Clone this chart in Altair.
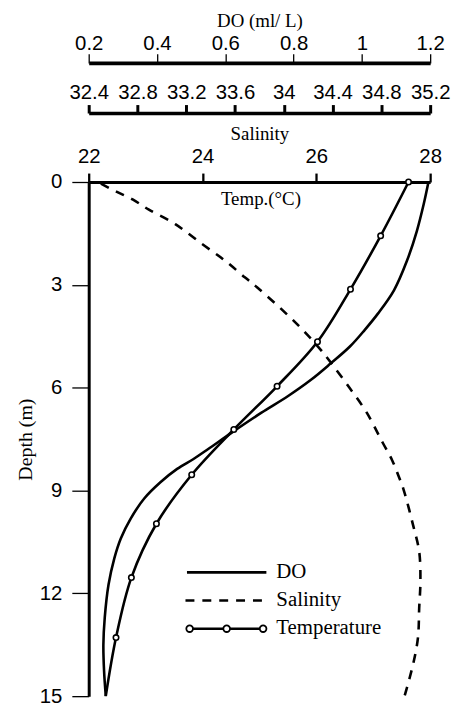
import altair as alt
import pandas as pd

# ---- data ----
do_depth = [0.0, 0.65, 1.43, 2.30, 3.16, 3.84, 4.32, 4.80, 5.29, 5.77, 6.25, 6.73,
            7.31, 7.79, 8.08, 8.37, 8.76, 9.24, 9.82, 10.40, 10.98, 11.75, 12.71, 13.49, 14.26, 15.0]
do_vals = [1.195, 1.181, 1.161, 1.132, 1.094, 1.047, 1.008, 0.965, 0.909, 0.851, 0.783, 0.706,
           0.619, 0.550, 0.507, 0.459, 0.410, 0.362, 0.323, 0.294, 0.275, 0.258, 0.247, 0.243, 0.245, 0.250]

sal_depth = [0.05, 0.27, 0.51, 0.80, 1.23, 1.81, 2.30, 2.78, 3.07, 4.08, 4.80, 5.29, 6.01,
             6.73, 7.60, 8.13, 8.57, 8.95, 10.01, 10.78, 11.65, 12.43, 13.29, 14.07, 15.0]
sal_vals = [32.50, 32.62, 32.76, 32.89, 33.11, 33.33, 33.52, 33.68, 33.78, 34.09, 34.28, 34.39, 34.54,
            34.68, 34.81, 34.89, 34.94, 34.98, 35.06, 35.11, 35.12, 35.11, 35.10, 35.06, 34.99]

temp_depth = [0.0, 1.57, 3.13, 4.66, 5.96, 7.22, 8.54, 9.97, 11.54, 13.29, 15.0]
temp_vals = [27.62, 27.13, 26.60, 26.02, 25.31, 24.55, 23.81, 23.19, 22.75, 22.48, 22.30]

do_ticks = [0.2, 0.4, 0.6, 0.8, 1.0, 1.2]
sal_ticks = [32.4, 32.8, 33.2, 33.6, 34.0, 34.4, 34.8, 35.2]
temp_ticks = [22, 24, 26, 28]
depth_ticks = [0, 3, 6, 9, 12, 15]
series_names = ["DO", "Salinity", "Temperature"]

do_df = pd.DataFrame({"depth": do_depth, "do": do_vals})
sal_df = pd.DataFrame({"depth": sal_depth, "sal": sal_vals})
temp_df = pd.DataFrame({"depth": temp_depth, "temp": temp_vals})
legend_df = pd.DataFrame({"label": series_names})

W, H = 344, 518
LW = 2.6
SERIF = "Liberation Serif"
LBL = 20.5

y_enc = alt.Y(
    "depth:Q",
    scale=alt.Scale(domain=[0, 15], reverse=True, nice=False, zero=False),
    axis=alt.Axis(
        orient="left", values=depth_ticks, tickSize=17, tickWidth=1.3, domainWidth=3,
        labelFontSize=LBL, labelPadding=10, labelFlush=False,
        title="Depth (m)", titleFont=SERIF, titleFontSize=20,
        titleX=-64, titleY=259, titleAngle=270, titleAlign="center", titleBaseline="middle",
    ),
)

temp_x = alt.X(
    "temp:Q",
    scale=alt.Scale(domain=[22, 28], nice=False, zero=False),
    axis=alt.Axis(
        orient="top", values=temp_ticks, format="~g", tickSize=9, tickWidth=2.3, domainWidth=3,
        labelFontSize=LBL, labelPadding=6.5, labelFlush=False,
        title="Temp.(°C)", titleFont=SERIF, titleFontSize=19,
        titleX=173, titleY=16.5, titleAlign="center", titleBaseline="middle",
    ),
)

sal_x = alt.X(
    "sal:Q",
    scale=alt.Scale(domain=[32.4, 35.2], nice=False, zero=False),
    axis=alt.Axis(
        orient="top", offset=69.5, values=sal_ticks, format="~g", tickSize=8.5, tickWidth=3,
        domainWidth=3.6, labelFontSize=LBL, labelPadding=2, labelFlush=False,
        title="Salinity", titleFont=SERIF, titleFontSize=19,
        titleX=172, titleY=21, titleAlign="center", titleBaseline="middle",
    ),
)

do_x = alt.X(
    "do:Q",
    scale=alt.Scale(domain=[0.2, 1.2], nice=False, zero=False),
    axis=alt.Axis(
        orient="top", offset=120, values=do_ticks, format="~g", tickSize=9.3, tickWidth=1.3,
        domainWidth=3.8, labelFontSize=LBL, labelPadding=0, labelFlush=False,
        title="DO (ml/ L)", titleFont=SERIF, titleFontSize=19,
        titleX=172, titleY=-43, titleAlign="center", titleBaseline="middle",
    ),
)

do_line = alt.Chart(do_df).mark_line(
    color="black", strokeWidth=LW, interpolate="catmull-rom"
).encode(x=do_x, y=y_enc, order="depth:Q")

sal_line = alt.Chart(sal_df).mark_line(
    color="black", strokeWidth=LW, strokeDash=[9, 8], interpolate="catmull-rom"
).encode(x=sal_x, y=y_enc, order="depth:Q")

temp_line = alt.Chart(temp_df).mark_line(
    color="black", strokeWidth=LW, interpolate="catmull-rom"
).encode(x=temp_x, y=y_enc, order="depth:Q")

temp_pts = alt.Chart(temp_df).transform_filter("datum.depth < 15").mark_point(
    shape="circle", filled=True, fill="white", stroke="black", strokeWidth=1.6, size=30, opacity=1
).encode(x=temp_x, y=y_enc)

temp_layer = alt.layer(temp_line, temp_pts)

# ---- hand-made legend (pixel positions inside the plot) ----
def leg(name):
    return alt.Chart(legend_df).transform_filter(alt.datum.label == name)

leg_do = leg("DO").mark_rule(color="black", strokeWidth=LW).encode(
    x=alt.value(99), x2=alt.value(179), y=alt.value(393.3))
leg_sal = leg("Salinity").mark_rule(color="black", strokeWidth=LW, strokeDash=[9, 8]).encode(
    x=alt.value(97.5), x2=alt.value(176), y=alt.value(421.6))
leg_temp = leg("Temperature").mark_rule(color="black", strokeWidth=LW).encode(
    x=alt.value(101.7), x2=alt.value(175.7), y=alt.value(450))
leg_pts = [
    leg("Temperature").mark_point(
        shape="circle", filled=True, fill="white", stroke="black", strokeWidth=1.8, size=45, opacity=1
    ).encode(x=alt.value(px), y=alt.value(450))
    for px in (101.7, 139, 175.7)
]
leg_texts = [
    leg(name).mark_text(align="left", baseline="middle", font=SERIF, fontSize=21, color="black").encode(
        x=alt.value(189), y=alt.value(yy), text="label:N")
    for name, yy in zip(series_names, (393.3, 421.6, 449.5))
]

chart = alt.layer(
    do_line, sal_line, temp_layer, leg_do, leg_sal, leg_temp, *leg_pts, *leg_texts
).resolve_scale(x="independent").properties(
    width=W, height=H,
    autosize=alt.AutoSizeParams(type="none"),
    padding={"left": 81.3, "top": 172.7, "right": 22, "bottom": 8},
).configure_axis(
    labelFont="Liberation Sans", labelColor="black", titleColor="black",
    domainColor="black", tickColor="black", grid=False, titleFontWeight="normal",
).configure_view(strokeWidth=0)

chart.save("out.html", embed_options={"renderer": "svg", "actions": False})
